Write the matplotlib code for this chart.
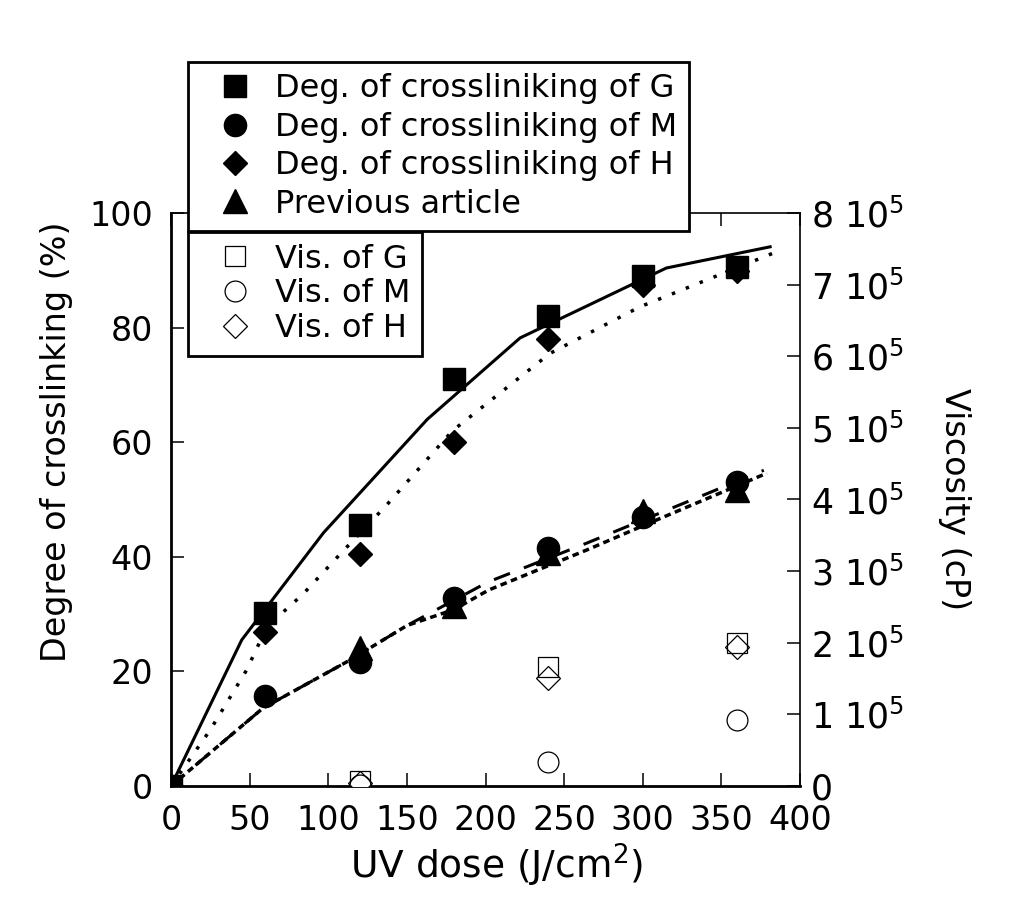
import matplotlib.pyplot as plt
from matplotlib.ticker import FuncFormatter

plt.rcParams['font.family'] = 'DejaVu Sans'
plt.rcParams['mathtext.fontset'] = 'dejavusans'

# Dados - grau de reticulação (%)
dose = [0, 60, 120, 180, 240, 300, 360]
deg_g = [0, 30.2, 45.5, 71, 82, 89, 90.5]
deg_m = [0, 15.7, 21.6, 32.8, 41.5, 47, 53]
deg_h = [0, 26.9, 40.5, 60, 78, 87.4, 89.8]
dose_prev = [120, 180, 240, 300, 360]
prev = [24, 31.5, 40.7, 48, 51.6]

# Dados - viscosidade (cP)
dose_vis = [120, 240, 360]
vis_g = [0.07e5, 1.66e5, 2.0e5]
vis_m = [0.01e5, 0.34e5, 0.92e5]
vis_h = [0.04e5, 1.51e5, 1.94e5]

# Curvas de ajuste
fit_g_x = [0, 45, 97, 163, 222, 315, 381]
fit_g_y = [0, 25.5, 44.2, 64, 78.2, 90.4, 94.1]
fit_h_x = [0, 25, 48, 61, 84, 107, 137, 179, 241, 298, 383]
fit_h_y = [0, 9.8, 20.2, 27.8, 33.5, 40.3, 49, 62, 75.5, 83.6, 93]
fit_m_x = [0, 58.5, 114, 150, 201.6, 264.5, 377]
fit_m_y = [0, 13.6, 22, 28, 35.6, 42.4, 55.1]
fit_p_x = [0, 58.5, 114, 150, 180, 202, 264.5, 300, 379]
fit_p_y = [0, 13.6, 22, 28, 30.8, 34.2, 41.2, 45.4, 54.6]

fig = plt.figure(figsize=(10.3, 8.98), dpi=100)
ax = fig.add_axes([171 / 1030, 1 - 786 / 898, 629 / 1030, 573 / 898])
ax2 = ax.twinx()

# Pontos
hp, = ax.plot(dose_prev, prev, '^', color='black', ms=17, ls='none')
hg, = ax.plot(dose, deg_g, 's', color='black', ms=16, ls='none')
hm, = ax.plot(dose, deg_m, 'o', color='black', ms=16, ls='none')
hh, = ax.plot(dose, deg_h, 'D', color='black', ms=12.5, ls='none')

# Curvas
ax.plot(fit_g_x, fit_g_y, color='black', lw=2.2, ls='-')
ax.plot(fit_h_x, fit_h_y, color='black', lw=2.5, ls=(0, (1, 3.3)))
ax.plot(fit_m_x, fit_m_y, color='black', lw=2.2, ls=(0, (5.6, 4.9)))
ax.plot(fit_p_x, fit_p_y, color='black', lw=2.5, ls=(0, (1.9, 1.3)))

vg, = ax2.plot(dose_vis, vis_g, 's', mfc='white', mec='black', mew=0.9, ms=15, ls='none')
vm, = ax2.plot(dose_vis, vis_m, 'o', mfc='white', mec='black', mew=0.9, ms=15, ls='none')
vh, = ax2.plot(dose_vis, vis_h, 'D', mfc='none', mec='black', mew=0.9, ms=12.5, ls='none')

# Eixos
ax.set_xlim(0, 400)
ax.set_ylim(0, 100)
ax.set_xticks(range(0, 401, 50))
ax.set_yticks(range(0, 101, 20))
ax2.set_ylim(0, 8e5)
ax2.set_yticks([i * 1e5 for i in range(9)])
ax2.yaxis.set_major_formatter(FuncFormatter(
    lambda v, p: '0' if v == 0 else '%d 10$^5$' % round(v / 1e5)))

ax.tick_params(axis='x', direction='in', length=9.5, width=1.1, labelsize=24,
               top=True, pad=13)
ax.tick_params(axis='y', direction='in', length=9.5, width=1.1, labelsize=24,
               right=False, pad=13)
ax2.tick_params(axis='y', direction='in', length=9.5, width=1.1, labelsize=25, pad=8)

ax.spines['left'].set_linewidth(2)
ax.spines['bottom'].set_linewidth(2)
ax.spines['top'].set_linewidth(1.2)
ax.spines['right'].set_visible(False)
for s in ['left', 'top', 'bottom']:
    ax2.spines[s].set_visible(False)
ax2.spines['right'].set_linewidth(1.2)

ax.set_xlabel('UV dose (J/cm$^2$)', fontsize=27)
ax.xaxis.set_label_coords(0.517, -0.098)
ax.set_ylabel('Degree of crosslinking (%)', fontsize=24)
ax.yaxis.set_label_coords(-0.156, 0.60)
ax2.set_ylabel('Viscosity (cP)', fontsize=24, rotation=270, va='bottom')
ax2.yaxis.set_label_coords(1.219, 0.5)

# Legendas
leg_kw = dict(loc='upper left', bbox_transform=fig.transFigure, borderaxespad=0,
              fancybox=False, edgecolor='black', framealpha=1, fontsize=23,
              borderpad=0.36, handlelength=2.22, handletextpad=0.14)
leg1 = fig.legend([hg, hm, hh, hp],
                  ['Deg. of crossliniking of G', 'Deg. of crossliniking of M',
                   'Deg. of crossliniking of H', 'Previous article'],
                  bbox_to_anchor=(188 / 1030, 1 - 62 / 898), labelspacing=0.23,
                  **leg_kw)
leg1.get_frame().set_linewidth(2)
leg2 = fig.legend([vg, vm, vh], ['Vis. of G', 'Vis. of M', 'Vis. of H'],
                  bbox_to_anchor=(188 / 1030, 1 - 232 / 898), labelspacing=0.12,
                  **leg_kw)
leg2.get_frame().set_linewidth(2)

fig.savefig('out.png', dpi=100)
